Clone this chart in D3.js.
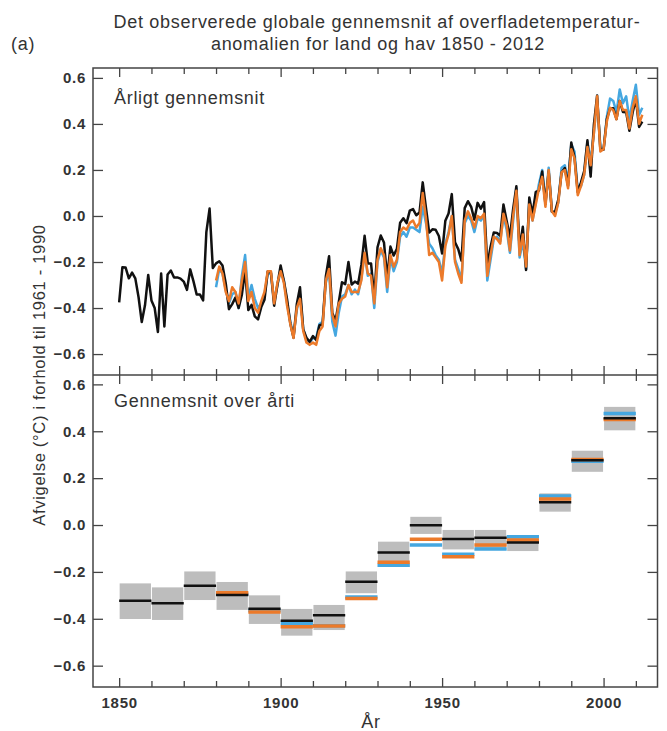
<!DOCTYPE html>
<html>
<head>
<meta charset="utf-8">
<script src="https://cdn.jsdelivr.net/npm/d3@7"></script>
<style>
  body { margin: 0; background: #fff; }
  svg text { font-family: "Liberation Sans", Arial, sans-serif; fill: #333; letter-spacing: 0.7px; }
</style>
</head>
<body>
<div class="Canvas"></div>
<script>
// annual years
let hadYears = d3.range(1850, 2013);
let obsYears = d3.range(1880, 2013);

// HadCRUT4 (black) 1850-2012
let hadcrut = [
  -0.375, -0.223, -0.224, -0.271, -0.246, -0.271, -0.352, -0.461, -0.388, -0.256,
  -0.367, -0.400, -0.504, -0.250, -0.480, -0.254, -0.237, -0.267, -0.267, -0.272,
  -0.285, -0.321, -0.232, -0.283, -0.341, -0.341, -0.367, -0.070, 0.032, -0.226,
  -0.206, -0.197, -0.215, -0.292, -0.405, -0.383, -0.355, -0.400, -0.342, -0.236,
  -0.409, -0.386, -0.436, -0.449, -0.396, -0.364, -0.241, -0.246, -0.390, -0.300,
  -0.215, -0.281, -0.363, -0.467, -0.529, -0.384, -0.310, -0.493, -0.529, -0.547,
  -0.522, -0.539, -0.476, -0.470, -0.263, -0.175, -0.422, -0.455, -0.375, -0.288,
  -0.296, -0.200, -0.298, -0.285, -0.294, -0.213, -0.086, -0.206, -0.206, -0.355,
  -0.136, -0.085, -0.115, -0.269, -0.133, -0.172, -0.143, -0.029, -0.010, -0.031,
  0.023, 0.030, 0.003, 0.015, 0.146, 0.036, -0.072, -0.058, -0.060, -0.087,
  -0.163, -0.021, 0.011, 0.095, -0.114, -0.144, -0.194, 0.034, 0.064, 0.040,
  -0.016, 0.057, 0.032, 0.060, -0.214, -0.135, -0.072, -0.074, -0.086, 0.050,
  -0.022, -0.092, 0.031, 0.129, -0.141, -0.047, -0.235, 0.080, 0.007, 0.105,
  0.110, 0.193, 0.051, 0.194, 0.018, 0.019, 0.072, 0.189, 0.208, 0.131,
  0.319, 0.254, 0.104, 0.146, 0.195, 0.329, 0.171, 0.397, 0.523, 0.290,
  0.288, 0.421, 0.467, 0.468, 0.421, 0.500, 0.452, 0.451, 0.370, 0.450,
  0.509, 0.387, 0.410
];

// MLOST (orange) 1880-2012
let mlost = [
  -0.28, -0.22, -0.25, -0.33, -0.37, -0.31, -0.33, -0.38, -0.28, -0.20,
  -0.37, -0.33, -0.40, -0.42, -0.37, -0.33, -0.24, -0.24, -0.38, -0.29,
  -0.24, -0.29, -0.39, -0.47, -0.53, -0.40, -0.36, -0.50, -0.55, -0.56,
  -0.55, -0.56, -0.50, -0.48, -0.28, -0.23, -0.43, -0.48, -0.38, -0.36,
  -0.35, -0.30, -0.33, -0.33, -0.33, -0.28, -0.16, -0.25, -0.26, -0.38,
  -0.19, -0.14, -0.17, -0.31, -0.17, -0.22, -0.19, -0.07, -0.05, -0.06,
  -0.03, -0.02, -0.05, -0.03, 0.10, -0.01, -0.17, -0.16, -0.18, -0.20,
  -0.28, -0.13, -0.08, 0.00, -0.20, -0.25, -0.29, -0.02, 0.02, -0.01,
  -0.05, 0.00, -0.01, 0.01, -0.26, -0.17, -0.09, -0.10, -0.12, 0.01,
  -0.04, -0.15, 0.00, 0.11, -0.17, -0.08, -0.22, 0.05, -0.02, 0.05,
  0.12, 0.17, 0.04, 0.20, 0.02, 0.00, 0.06, 0.19, 0.20, 0.12,
  0.29, 0.25, 0.09, 0.13, 0.18, 0.30, 0.22, 0.36, 0.52, 0.28,
  0.29, 0.41, 0.47, 0.46, 0.42, 0.50, 0.46, 0.46, 0.38, 0.47,
  0.52, 0.40, 0.44
];

// GISS (blue) 1880-2012
let giss = [
  -0.31, -0.23, -0.25, -0.32, -0.38, -0.34, -0.33, -0.40, -0.26, -0.17,
  -0.35, -0.30, -0.36, -0.40, -0.38, -0.34, -0.25, -0.25, -0.37, -0.30,
  -0.24, -0.28, -0.38, -0.46, -0.52, -0.41, -0.34, -0.49, -0.54, -0.55,
  -0.53, -0.53, -0.47, -0.46, -0.29, -0.24, -0.46, -0.52, -0.42, -0.35,
  -0.34, -0.30, -0.34, -0.32, -0.34, -0.27, -0.16, -0.26, -0.25, -0.40,
  -0.20, -0.15, -0.18, -0.33, -0.18, -0.24, -0.20, -0.09, -0.07, -0.09,
  -0.05, -0.05, -0.06, -0.07, 0.04, -0.03, -0.12, -0.14, -0.17, -0.19,
  -0.25, -0.12, -0.07, 0.00, -0.19, -0.23, -0.28, -0.03, 0.00, -0.02,
  -0.07, -0.01, -0.02, 0.00, -0.28, -0.19, -0.10, -0.09, -0.11, 0.00,
  -0.06, -0.16, -0.02, 0.12, -0.18, -0.11, -0.23, 0.06, -0.02, 0.06,
  0.14, 0.20, 0.06, 0.21, 0.02, 0.01, 0.06, 0.21, 0.22, 0.15,
  0.31, 0.28, 0.11, 0.13, 0.18, 0.32, 0.24, 0.36, 0.51, 0.30,
  0.29, 0.43, 0.51, 0.50, 0.45, 0.55, 0.49, 0.52, 0.42, 0.50,
  0.57, 0.44, 0.47
];

// decadal means (start year of each decade)
let decades = d3.range(1850, 2010, 10);
let decHad = [-0.323, -0.334, -0.259, -0.299, -0.357, -0.408, -0.385, -0.242, -0.117, -0.001, -0.060, -0.054, -0.075, 0.097, 0.276, 0.455];
let decLow = [-0.401, -0.405, -0.320, -0.362, -0.422, -0.472, -0.448, -0.291, -0.178, -0.038, -0.104, -0.107, -0.111, 0.057, 0.227, 0.404];
let decHigh = [-0.249, -0.266, -0.198, -0.243, -0.300, -0.358, -0.341, -0.198, -0.071, 0.035, -0.021, -0.021, -0.043, 0.135, 0.317, 0.504];
let decMlost = [null, null, null, -0.289, -0.371, -0.434, -0.431, -0.313, -0.159, -0.061, -0.135, -0.085, -0.064, 0.111, 0.280, 0.450];
let decGiss = [null, null, null, -0.295, -0.365, -0.419, -0.430, -0.307, -0.172, -0.085, -0.125, -0.102, -0.050, 0.124, 0.272, 0.476];

let yTicks = [-0.6, -0.4, -0.2, 0.0, 0.2, 0.4, 0.6];
let xLabelTicks = [1850, 1900, 1950, 2000];

let colBlack = '#111111';
let colOrange = '#ec7a2a';
let colBlue = '#45a7e0';
let colGrey = '#bdbdbd';

let width = 667;
let height = 731;
let left = 93, right = 657.5;
let topY = 68, midY = 375, bottomY = 687;

let svg = d3.select('.Canvas').append('svg').attr('width', width).attr('height', height);

let x = d3.scaleLinear().domain([1841.9, 2016.7]).range([left, right]);
let yTop = d3.scaleLinear().domain([-0.691, 0.643]).range([midY, topY]);
let yBot = d3.scaleLinear().domain([-0.691, 0.64]).range([bottomY, midY]);
let fmt = d3.format('.1f');

// title
svg.append('text').attr('x', 377).attr('y', 28).attr('text-anchor', 'middle')
    .attr('font-size', '18px').text('Det observerede globale gennemsnit af overfladetemperatur-');
svg.append('text').attr('x', 378).attr('y', 50).attr('text-anchor', 'middle')
    .attr('font-size', '18px').text('anomalien for land og hav 1850 - 2012');
svg.append('text').attr('x', 11).attr('y', 50).attr('font-size', '18px').text('(a)');

// top panel lines
let clipTop = svg.append('clipPath').attr('id', 'clipTop').append('rect')
    .attr('x', left).attr('y', topY).attr('width', right - left).attr('height', midY - topY);

let gTop = svg.append('g').attr('clip-path', 'url(#clipTop)');
let lineTop = d3.line().x((d) => x(d[0])).y((d) => yTop(d[1]));

let series = [
    { years: obsYears, values: giss, color: colBlue },
    { years: hadYears, values: hadcrut, color: colBlack },
    { years: obsYears, values: mlost, color: colOrange },
];
series.forEach((s) => {
    gTop.append('path')
        .datum(s.years.map((yr, i) => [yr, s.values[i]]))
        .attr('fill', 'none')
        .attr('stroke', s.color)
        .attr('stroke-width', 2.5)
        .attr('stroke-linejoin', 'round')
        .attr('d', lineTop);
});

// bottom panel decadal boxes
let gBot = svg.append('g');
gBot.selectAll('rect.box')
    .data(decades)
    .enter()
    .append('rect')
    .attr('class', 'box')
    .attr('x', (d) => x(d) + 0.5)
    .attr('width', (d) => x(d + 10) - x(d) - 1)
    .attr('y', (d, i) => yBot(decHigh[i]))
    .attr('height', (d, i) => yBot(decLow[i]) - yBot(decHigh[i]))
    .attr('fill', colGrey);

let decSeries = [
    { values: decGiss, color: colBlue, w: 3.5 },
    { values: decMlost, color: colOrange, w: 3.5 },
    { values: decHad, color: colBlack, w: 2.5 },
];
decSeries.forEach((s) => {
    gBot.selectAll(null)
        .data(decades.filter((d, i) => s.values[i] != null))
        .enter()
        .append('line')
        .attr('x1', (d) => x(d))
        .attr('x2', (d) => x(d + 10))
        .attr('y1', (d) => yBot(s.values[decades.indexOf(d)]))
        .attr('y2', (d) => yBot(s.values[decades.indexOf(d)]))
        .attr('stroke', s.color)
        .attr('stroke-width', s.w);
});

// axes
let frameColor = '#444';
function yAxes(scale) {
    svg.append('g').attr('transform', `translate(${left},0)`)
        .call(d3.axisRight(scale).tickValues(yTicks).tickSize(10).tickFormat(''))
        .call((g) => g.select('.domain').remove())
        .call((g) => g.selectAll('line').attr('stroke', frameColor).attr('stroke-width', 1.3));
    svg.append('g').attr('transform', `translate(${right},0)`)
        .call(d3.axisLeft(scale).tickValues(yTicks).tickSize(10).tickFormat(''))
        .call((g) => g.select('.domain').remove())
        .call((g) => g.selectAll('line').attr('stroke', frameColor).attr('stroke-width', 1.3));
    svg.append('g').attr('transform', `translate(${left - 4},0)`)
        .call(d3.axisLeft(scale).tickValues(yTicks).tickSize(0).tickFormat(fmt))
        .call((g) => g.select('.domain').remove())
        .call((g) => g.selectAll('text')
            .attr('font-size', '15px')
            .attr('font-weight', 'bold')
            .attr('fill', '#333')
            .attr('letter-spacing', '0.3px')
            .attr('font-family', '"Liberation Sans", Arial, sans-serif'));
}
yAxes(yTop);
yAxes(yBot);

let xTicks = d3.range(1850, 2020, 10);
function xAxis(yPos, dir) {
    let ax = dir > 0 ? d3.axisBottom(x) : d3.axisTop(x);
    let g = svg.append('g').attr('transform', `translate(0,${yPos})`)
        .call(ax.tickValues(xTicks).tickSize(6).tickFormat(''));
    g.select('.domain').remove();
    g.selectAll('.tick line')
        .attr('stroke', frameColor)
        .attr('stroke-width', 1.3)
        .attr('y2', (d) => dir * (d % 50 == 0 ? 9 : 6));
}
xAxis(topY, 1);
xAxis(midY, -1);
xAxis(midY, 1);
xAxis(bottomY, -1);

svg.append('g').attr('transform', `translate(0,${bottomY + 7})`)
    .call(d3.axisBottom(x).tickValues(xLabelTicks).tickSize(0).tickFormat(d3.format('d')))
    .call((g) => g.select('.domain').remove())
    .call((g) => g.selectAll('text')
        .attr('font-size', '15px')
        .attr('font-weight', 'bold')
        .attr('fill', '#333')
        .attr('letter-spacing', '0.5px')
        .attr('font-family', '"Liberation Sans", Arial, sans-serif'));

// frame
svg.append('rect').attr('x', left).attr('y', topY).attr('width', right - left).attr('height', bottomY - topY)
    .attr('fill', 'none').attr('stroke', frameColor).attr('stroke-width', 1.5);
svg.append('line').attr('x1', left).attr('x2', right).attr('y1', midY).attr('y2', midY)
    .attr('stroke', frameColor).attr('stroke-width', 1.5);

// panel labels
svg.append('text').attr('x', 114).attr('y', 104).attr('font-size', '18px').text('Årligt gennemsnit');
svg.append('text').attr('x', 114).attr('y', 407).attr('font-size', '18px').text('Gennemsnit over årti');

// axis titles
svg.append('text').attr('x', 371).attr('y', 728).attr('text-anchor', 'middle')
    .attr('font-size', '18px').text('År');
svg.append('text').attr('transform', 'translate(45,375) rotate(-90)').attr('text-anchor', 'middle')
    .attr('font-size', '16.5px').attr('letter-spacing', '1px')
    .text('Afvigelse (°C) i forhold til 1961 - 1990');
</script>
</body>
</html>
